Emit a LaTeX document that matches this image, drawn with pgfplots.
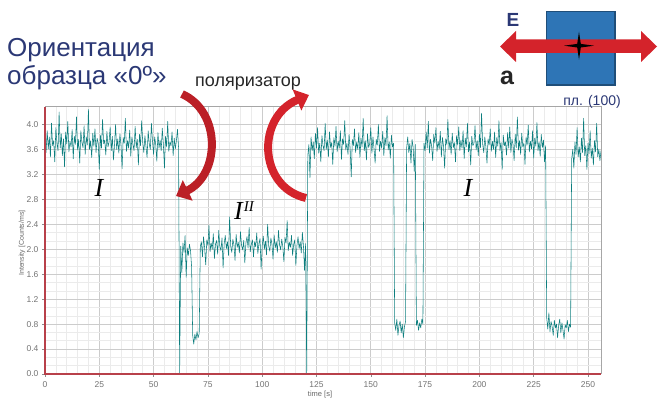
\documentclass[border=0pt]{standalone}
\usepackage{pgfplots}
\pgfplotsset{compat=1.18}
\usepackage{pgfplotstable}
\usepackage{fontspec}
\setmainfont{Liberation Sans}
\newfontfamily\serifit{Liberation Serif}
\usetikzlibrary{arrows.meta}
\definecolor{sig}{HTML}{0E7F7F}
\definecolor{navy}{HTML}{2B3875}
\definecolor{arrred}{HTML}{D4232B}
\definecolor{frame}{HTML}{B8404A}
\definecolor{boxblue}{HTML}{2E75B6}
\definecolor{boxedge}{HTML}{1F4E79}

\pgfplotstableread{
t y
0.0 3.72
0.5 3.55
1.0 3.90
1.5 3.61
2.0 3.80
2.5 3.48
3.0 4.02
3.5 3.66
4.0 3.74
4.5 3.40
5.0 3.95
5.5 3.70
6.0 3.58
6.5 4.20
7.0 3.62
7.5 3.85
8.0 3.50
8.5 3.77
9.0 3.32
9.5 3.88
10.0 3.69
10.5 4.05
11.0 3.56
11.5 3.73
12.0 3.64
12.5 3.92
13.0 3.45
13.5 3.81
14.0 3.68
14.5 4.12
15.0 3.59
15.5 3.76
16.0 3.38
16.5 3.90
17.0 3.71
17.5 3.63
18.0 3.98
18.5 3.52
19.0 3.80
19.5 3.67
20.0 4.24
20.5 3.60
21.0 3.74
21.5 3.47
22.0 3.86
22.5 3.65
23.0 3.93
23.5 3.55
24.0 3.78
24.5 3.70
25.0 3.28
25.5 3.83
26.0 3.62
26.5 4.08
27.0 3.69
27.5 3.75
28.0 3.51
28.5 3.89
29.0 3.64
29.5 3.72
30.0 3.96
30.5 3.58
31.0 3.81
31.5 3.43
32.0 3.67
32.5 4.00
33.0 3.60
33.5 3.77
34.0 3.54
34.5 3.85
35.0 3.66
35.5 3.29
36.0 3.79
36.5 3.70
37.0 4.10
37.5 3.57
38.0 3.74
38.5 3.62
39.0 3.91
39.5 3.49
40.0 3.80
40.5 3.68
41.0 3.58
41.5 3.97
42.0 3.63
42.5 3.76
43.0 3.35
43.5 3.84
44.0 3.66
44.5 4.06
45.0 3.71
45.5 3.55
46.0 3.82
46.5 3.64
47.0 3.47
47.5 3.90
48.0 3.69
48.5 3.60
49.0 4.02
49.5 3.73
50.0 3.52
50.5 3.80
51.0 3.67
51.5 3.41
52.0 3.87
52.5 3.62
53.0 3.75
53.5 3.58
54.0 3.94
54.5 3.68
55.0 3.30
55.5 3.81
56.0 3.64
56.5 4.05
57.0 3.57
57.5 3.72
58.0 3.66
58.5 3.88
59.0 3.50
59.5 3.78
60.0 3.61
60.5 3.74
61.0 3.92
61.5 3.63
62.0 0.02
62.5 2.05
63.0 1.62
63.5 2.10
64.0 1.95
64.5 2.22
65.0 1.55
65.5 2.02
66.0 1.90
66.5 2.08
67.0 1.98
67.5 1.72
68.0 0.62
68.5 0.48
69.0 0.64
69.5 0.55
70.0 0.68
70.5 0.58
71.0 0.65
71.5 2.04
72.0 2.12
72.5 1.88
73.0 2.20
73.5 2.02
74.0 1.75
74.5 2.15
75.0 2.06
75.5 2.38
76.0 1.96
76.5 2.10
77.0 2.00
77.5 2.25
78.0 1.85
78.5 2.08
79.0 2.14
79.5 1.92
80.0 2.30
80.5 2.04
81.0 1.98
81.5 2.18
82.0 1.70
82.5 2.09
83.0 2.22
83.5 2.01
84.0 2.12
84.5 1.90
85.0 2.52
85.5 2.05
86.0 1.95
86.5 2.16
87.0 2.07
87.5 1.82
88.0 2.24
88.5 2.03
89.0 2.11
89.5 1.94
90.0 2.28
90.5 2.06
91.0 1.99
91.5 2.14
92.0 1.78
92.5 2.10
93.0 2.20
93.5 2.02
94.0 2.35
94.5 1.96
95.0 2.08
95.5 2.15
96.0 1.88
96.5 2.12
97.0 2.04
97.5 2.26
98.0 1.93
98.5 2.09
99.0 2.17
99.5 1.68
100.0 2.06
100.5 2.21
101.0 2.00
101.5 2.13
102.0 1.91
102.5 2.40
103.0 2.05
103.5 1.97
104.0 2.18
104.5 2.08
105.0 1.84
105.5 2.23
106.0 2.02
106.5 2.12
107.0 1.95
107.5 2.30
108.0 2.07
108.5 1.99
109.0 2.16
109.5 2.04
110.0 1.80
110.5 2.19
111.0 2.10
111.5 2.46
112.0 1.98
112.5 2.11
113.0 2.03
113.5 2.22
114.0 1.90
114.5 2.08
115.0 2.15
115.5 1.74
116.0 2.06
116.5 2.20
117.0 2.01
117.5 2.12
118.0 1.94
118.5 2.27
119.0 2.05
119.5 1.66
120.0 2.09
120.5 0.02
121.0 3.50
121.5 3.68
122.0 3.15
122.5 3.80
123.0 3.58
123.5 3.72
124.0 3.45
124.5 3.86
125.0 3.62
125.5 3.95
126.0 3.54
126.5 3.70
127.0 3.40
127.5 3.82
128.0 3.66
128.5 3.58
129.0 4.02
129.5 3.60
130.0 3.75
130.5 3.48
131.0 3.88
131.5 3.63
132.0 3.71
132.5 3.36
133.0 3.79
133.5 3.65
134.0 3.97
134.5 3.56
135.0 3.73
135.5 3.62
136.0 3.90
136.5 3.44
137.0 3.77
137.5 3.68
138.0 4.06
138.5 3.59
139.0 3.70
139.5 3.52
140.0 3.84
140.5 3.61
141.0 3.16
141.5 3.76
142.0 3.66
142.5 3.93
143.0 3.55
143.5 3.72
144.0 3.60
144.5 3.87
145.0 3.47
145.5 3.78
146.0 3.64
146.5 4.10
147.0 3.58
147.5 3.74
148.0 3.43
148.5 3.85
149.0 3.63
149.5 3.69
150.0 3.95
150.5 3.54
151.0 3.80
151.5 3.61
152.0 3.38
152.5 3.76
153.0 3.67
153.5 4.00
154.0 3.57
154.5 3.73
155.0 3.62
155.5 3.89
156.0 3.50
156.5 3.79
157.0 3.66
157.5 4.14
158.0 3.59
158.5 3.72
159.0 3.46
159.5 3.83
160.0 3.64
160.5 3.70
161.0 0.82
161.5 0.70
162.0 0.88
162.5 0.62
163.0 0.78
163.5 0.85
164.0 0.66
164.5 0.80
165.0 0.58
165.5 0.76
166.0 0.84
166.5 3.62
167.0 3.80
167.5 3.55
168.0 3.70
168.5 3.38
169.0 3.76
169.5 3.64
170.0 3.25
170.5 3.68
171.0 0.78
171.5 0.86
172.0 0.70
172.5 0.82
173.0 0.74
173.5 0.88
174.0 0.80
174.5 3.70
175.0 3.58
175.5 3.88
176.0 3.62
176.5 4.05
177.0 3.54
177.5 3.76
178.0 3.66
178.5 3.42
179.0 3.84
179.5 3.70
180.0 3.95
180.5 3.57
181.0 3.73
181.5 3.61
182.0 3.89
182.5 3.48
183.0 3.79
183.5 3.65
184.0 3.30
184.5 3.77
185.0 3.68
185.5 4.08
186.0 3.60
186.5 3.74
187.0 3.52
187.5 3.86
188.0 3.63
188.5 3.71
189.0 3.40
189.5 3.82
190.0 3.67
190.5 3.96
191.0 3.58
191.5 3.75
192.0 3.62
192.5 3.90
193.0 3.45
193.5 3.78
194.0 3.64
194.5 4.02
195.0 3.56
195.5 3.72
196.0 3.35
196.5 3.81
197.0 3.66
197.5 3.70
198.0 3.98
198.5 3.59
199.0 3.74
199.5 3.50
200.0 3.85
200.5 3.63
201.0 4.18
201.5 3.69
202.0 3.55
202.5 3.80
203.0 3.64
203.5 3.38
204.0 3.77
204.5 3.67
205.0 3.93
205.5 3.57
206.0 3.73
206.5 3.60
207.0 3.88
207.5 3.47
208.0 3.79
208.5 3.65
209.0 4.06
209.5 3.58
210.0 3.71
210.5 3.28
211.0 3.83
211.5 3.66
212.0 3.72
212.5 3.51
213.0 3.87
213.5 3.62
214.0 3.96
214.5 3.55
215.0 3.76
215.5 3.68
216.0 3.42
216.5 3.84
217.0 3.63
217.5 4.12
218.0 3.59
218.5 3.74
219.0 3.52
219.5 3.86
220.0 3.64
220.5 3.70
221.0 3.36
221.5 3.80
222.0 3.67
222.5 3.99
223.0 3.56
223.5 3.73
224.0 3.61
224.5 3.90
225.0 3.46
225.5 3.78
226.0 3.65
226.5 4.03
227.0 3.58
227.5 3.72
228.0 3.49
228.5 3.84
229.0 3.63
229.5 3.75
230.0 3.40
230.5 3.66
231.0 0.90
231.5 0.72
232.0 0.98
232.5 0.68
233.0 0.84
233.5 0.76
234.0 0.62
234.5 0.86
235.0 0.74
235.5 0.80
236.0 0.58
236.5 0.78
237.0 0.88
237.5 0.66
238.0 0.82
238.5 0.70
239.0 0.56
239.5 0.79
240.0 0.74
240.5 0.86
241.0 0.68
241.5 0.80
242.0 0.75
242.5 3.45
243.0 3.60
243.5 3.30
244.0 3.72
244.5 3.52
245.0 3.95
245.5 3.48
246.0 3.64
246.5 3.40
247.0 3.78
247.5 3.55
248.0 4.10
248.5 3.50
249.0 3.66
249.5 3.28
250.0 3.70
250.5 3.53
251.0 3.90
251.5 3.46
252.0 3.62
252.5 3.35
253.0 3.74
253.5 3.56
254.0 4.02
254.5 3.48
255.0 3.60
255.5 3.42
256.0 3.58
}\signal

\begin{document}
\begin{tikzpicture}[x=1pt,y=1pt]
\useasboundingbox (0,0) rectangle (658,401);
\begin{axis}[
  at={(45pt,27pt)}, anchor=south west,
  scale only axis, width=556pt, height=267pt,
  xmin=0, xmax=256, ymin=0, ymax=4.28,
  xtick={0,25,50,75,100,125,150,175,200,225,250},
  ytick={0,0.4,0.8,1.2,1.6,2.0,2.4,2.8,3.2,3.6,4.0},
  minor x tick num=4, minor y tick num=2,
  grid=both,
  major grid style={draw=black!20, line width=0.6pt},
  minor grid style={draw=black!8, line width=0.5pt},
  tick align=outside, major tick length=3pt, minor tick length=0pt,
  tick style={draw=black!45, line width=0.5pt},
  xtick pos=bottom, ytick pos=left,
  axis line style={draw=none},
  clip mode=individual,
  /pgf/number format/assume math mode=true,
  yticklabel style={/pgf/number format/.cd, fixed, fixed zerofill, precision=1},
  ticklabel style={font=\fontsize{8.5}{9}\selectfont, text=black!55},
  xticklabel style={yshift=-1pt},
]
\addplot[sig, line width=0.55pt, line join=round] table[x=t, y=y] {\signal};
\draw[black!35, line width=1pt] (rel axis cs:0,1) -- (rel axis cs:1,1) -- (rel axis cs:1,0);
\draw[frame, line width=1.4pt] (rel axis cs:0,1) -- (rel axis cs:0,0) -- (rel axis cs:1,0);
\end{axis}

% axis titles
\node[rotate=90, font=\fontsize{7}{8}\selectfont, text=black!60] at (22,158) {Intensity [Counts/ms]};
\node[font=\fontsize{7.5}{8}\selectfont, text=black!60] at (320,6) {time [s]};

% curve labels
\node[anchor=base, font=\serifit\itshape\fontsize{26}{26}\selectfont] at (99,204) {I};
\node[anchor=base, font=\serifit\itshape\fontsize{26}{26}\selectfont] at (468,204) {I};
\node[anchor=base west, font=\serifit\itshape\fontsize{26}{26}\selectfont, inner sep=0pt] at (234,181) {I\kern1pt\raisebox{8pt}{\fontsize{15}{15}\selectfont II}};

% title
\node[anchor=base west, inner sep=0pt, font=\fontsize{26}{28}\selectfont, text=navy] at (7,344) {Ориентация};
\node[anchor=base west, inner sep=0pt, font=\fontsize{26}{28}\selectfont, text=navy] at (7,316) {образца «0º»};
\node[anchor=base, inner sep=0pt, font=\fontsize{18}{20}\selectfont, text=black!85] at (248,314) {поляризатор};

% curved arrows
\draw[line width=8pt, -{Triangle[width=22pt,length=13pt]}, arrred!88!black]
  (182,307) .. controls (222,289) and (220,226) .. (176,205);
\draw[line width=8pt, -{Triangle[width=22pt,length=13pt]}, arrred]
  (306,203) .. controls (258,214) and (256,284) .. (309,306);

% top-right sketch
\fill[boxblue] (546.7,389.3) rectangle (615,316);
\draw[boxedge, line width=1.2pt] (546.7,389.3) rectangle (615,316);
\fill[arrred] (500,354.5) -- (516,370) -- (516,361.5) -- (641,361.5) -- (641,370) -- (657,354.5)
  -- (641,339) -- (641,348) -- (516,348) -- (516,339) -- cycle;
\fill[black] (564,355.3) -- (577.2,357.1) -- (579,369.3) -- (580.8,357.1) -- (594,355.3)
  -- (580.8,353.5) -- (579,341.3) -- (577.2,353.5) -- cycle;
\node[font=\bfseries\fontsize{19}{20}\selectfont, text=navy] at (513,381) {E};
\node[anchor=base, font=\bfseries\fontsize{25}{26}\selectfont, text=black!85] at (507,316) {a};
\node[anchor=base, font=\fontsize{14}{16}\selectfont, text=navy] at (592,295) {пл. (100)};
\end{tikzpicture}
\end{document}
